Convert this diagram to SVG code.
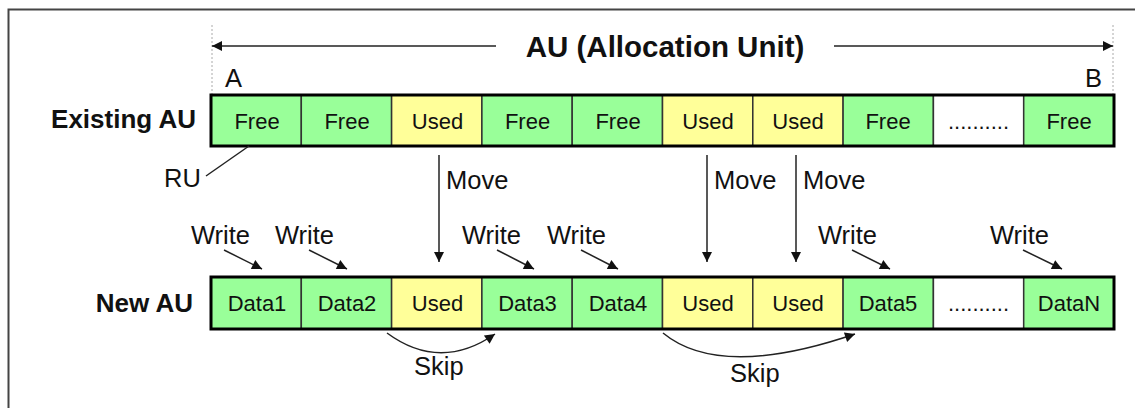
<svg xmlns="http://www.w3.org/2000/svg" width="1135" height="408" viewBox="0 0 1135 408">
<style>
text{font-family:"Liberation Sans",Arial,sans-serif;fill:#111}
.cell{font-size:22px;text-anchor:middle}
.lbl{font-size:25.5px}
.bold{font-weight:bold}
.g{fill:#99ff99;stroke:#333;stroke-width:1.5}
.y{fill:#ffff99;stroke:#333;stroke-width:1.5}
.w{fill:#ffffff;stroke:#333;stroke-width:1.5}
.frame{fill:none;stroke:#000;stroke-width:3}
.ln{stroke:#222;stroke-width:1.5;fill:none}
.dot{stroke:#aaa;stroke-width:1;stroke-dasharray:2,2}
</style>
<defs>
<marker id="ah" viewBox="0 0 10 10" refX="10" refY="5" markerUnits="userSpaceOnUse" markerWidth="13" markerHeight="10" orient="auto-start-reverse">
<path d="M0,0 L10,5 L0,10 z" fill="#111"/>
</marker>
</defs>
<rect x="8.5" y="9.5" width="1140" height="410" fill="#fff" stroke="#444" stroke-width="2"/>
<g id="dimension">
<line class="dot" x1="212" y1="25" x2="212" y2="94"/>
<line class="dot" x1="1113" y1="25" x2="1113" y2="94"/>
<line class="ln" x1="212" y1="46" x2="496" y2="46" marker-start="url(#ah)"/>
<line class="ln" x1="834" y1="46" x2="1113" y2="46" marker-end="url(#ah)"/>
<text class="bold" x="665" y="57" font-size="29.5" text-anchor="middle">AU (Allocation Unit)</text>
<text class="lbl" x="225" y="87">A</text>
<text class="lbl" x="1085" y="87">B</text>
</g>
<g id="existing-au">
<text class="bold" x="196" y="128" font-size="26" text-anchor="end">Existing AU</text>
<rect class="g" x="211" y="95" width="90.3" height="51"/>
<rect class="g" x="301.3" y="95" width="90.3" height="51"/>
<rect class="y" x="391.6" y="95" width="90.3" height="51"/>
<rect class="g" x="481.9" y="95" width="90.3" height="51"/>
<rect class="g" x="572.2" y="95" width="90.3" height="51"/>
<rect class="y" x="662.5" y="95" width="90.3" height="51"/>
<rect class="y" x="752.8" y="95" width="90.3" height="51"/>
<rect class="g" x="843.1" y="95" width="90.3" height="51"/>
<rect class="w" x="933.4" y="95" width="90.3" height="51"/>
<rect class="g" x="1023.7" y="95" width="90.3" height="51"/>
<rect class="frame" x="211" y="95" width="903" height="51"/>
<text class="cell" x="257" y="129">Free</text>
<text class="cell" x="347" y="129">Free</text>
<text class="cell" x="437.5" y="129">Used</text>
<text class="cell" x="527.5" y="129">Free</text>
<text class="cell" x="618" y="129">Free</text>
<text class="cell" x="708" y="129">Used</text>
<text class="cell" x="798" y="129">Used</text>
<text class="cell" x="888" y="129">Free</text>
<text class="cell" x="978.5" y="129">..........</text>
<text class="cell" x="1069" y="129">Free</text>
</g>
<g id="ru-label">
<text class="lbl" x="164" y="187">RU</text>
</g>
<g id="new-au">
<text class="bold" x="193" y="312" font-size="26" text-anchor="end">New AU</text>
<rect class="g" x="211" y="277" width="90.3" height="52"/>
<rect class="g" x="301.3" y="277" width="90.3" height="52"/>
<rect class="y" x="391.6" y="277" width="90.3" height="52"/>
<rect class="g" x="481.9" y="277" width="90.3" height="52"/>
<rect class="g" x="572.2" y="277" width="90.3" height="52"/>
<rect class="y" x="662.5" y="277" width="90.3" height="52"/>
<rect class="y" x="752.8" y="277" width="90.3" height="52"/>
<rect class="g" x="843.1" y="277" width="90.3" height="52"/>
<rect class="w" x="933.4" y="277" width="90.3" height="52"/>
<rect class="g" x="1023.7" y="277" width="90.3" height="52"/>
<rect class="frame" x="211" y="277" width="903" height="52"/>
<text class="cell" x="257" y="311">Data1</text>
<text class="cell" x="347" y="311">Data2</text>
<text class="cell" x="437.5" y="311">Used</text>
<text class="cell" x="527.5" y="311">Data3</text>
<text class="cell" x="618" y="311">Data4</text>
<text class="cell" x="708" y="311">Used</text>
<text class="cell" x="798" y="311">Used</text>
<text class="cell" x="888" y="311">Data5</text>
<text class="cell" x="978.5" y="311">..........</text>
<text class="cell" x="1069" y="311">DataN</text>
</g>
<g id="labels">
<text class="lbl" x="446" y="189">Move</text>
<text class="lbl" x="714" y="189">Move</text>
<text class="lbl" x="803" y="189">Move</text>
<text class="lbl" x="191" y="244">Write</text>
<text class="lbl" x="275" y="244">Write</text>
<text class="lbl" x="462" y="244">Write</text>
<text class="lbl" x="547" y="244">Write</text>
<text class="lbl" x="818" y="244">Write</text>
<text class="lbl" x="990" y="244">Write</text>
<text class="lbl" x="414" y="375">Skip</text>
<text class="lbl" x="730" y="382">Skip</text>
</g>
<g id="connectors">
<line class="ln" x1="206" y1="176" x2="249" y2="146"/>
<line class="ln" x1="439" y1="155" x2="439" y2="262" marker-end="url(#ah)"/>
<line class="ln" x1="707" y1="155" x2="707" y2="262" marker-end="url(#ah)"/>
<line class="ln" x1="796" y1="155" x2="796" y2="262" marker-end="url(#ah)"/>
<line class="ln" x1="224" y1="250" x2="262" y2="269" marker-end="url(#ah)"/>
<line class="ln" x1="309" y1="250" x2="347" y2="269" marker-end="url(#ah)"/>
<line class="ln" x1="497" y1="250" x2="534" y2="269" marker-end="url(#ah)"/>
<line class="ln" x1="581" y1="250" x2="618" y2="269" marker-end="url(#ah)"/>
<line class="ln" x1="852" y1="250" x2="890" y2="269" marker-end="url(#ah)"/>
<line class="ln" x1="1023" y1="250" x2="1062" y2="269" marker-end="url(#ah)"/>
<path class="ln" d="M387,333 Q440,372 495,334" marker-end="url(#ah)"/>
<path class="ln" d="M663,333 Q720,380 855,334" marker-end="url(#ah)"/>
</g>
</svg>
